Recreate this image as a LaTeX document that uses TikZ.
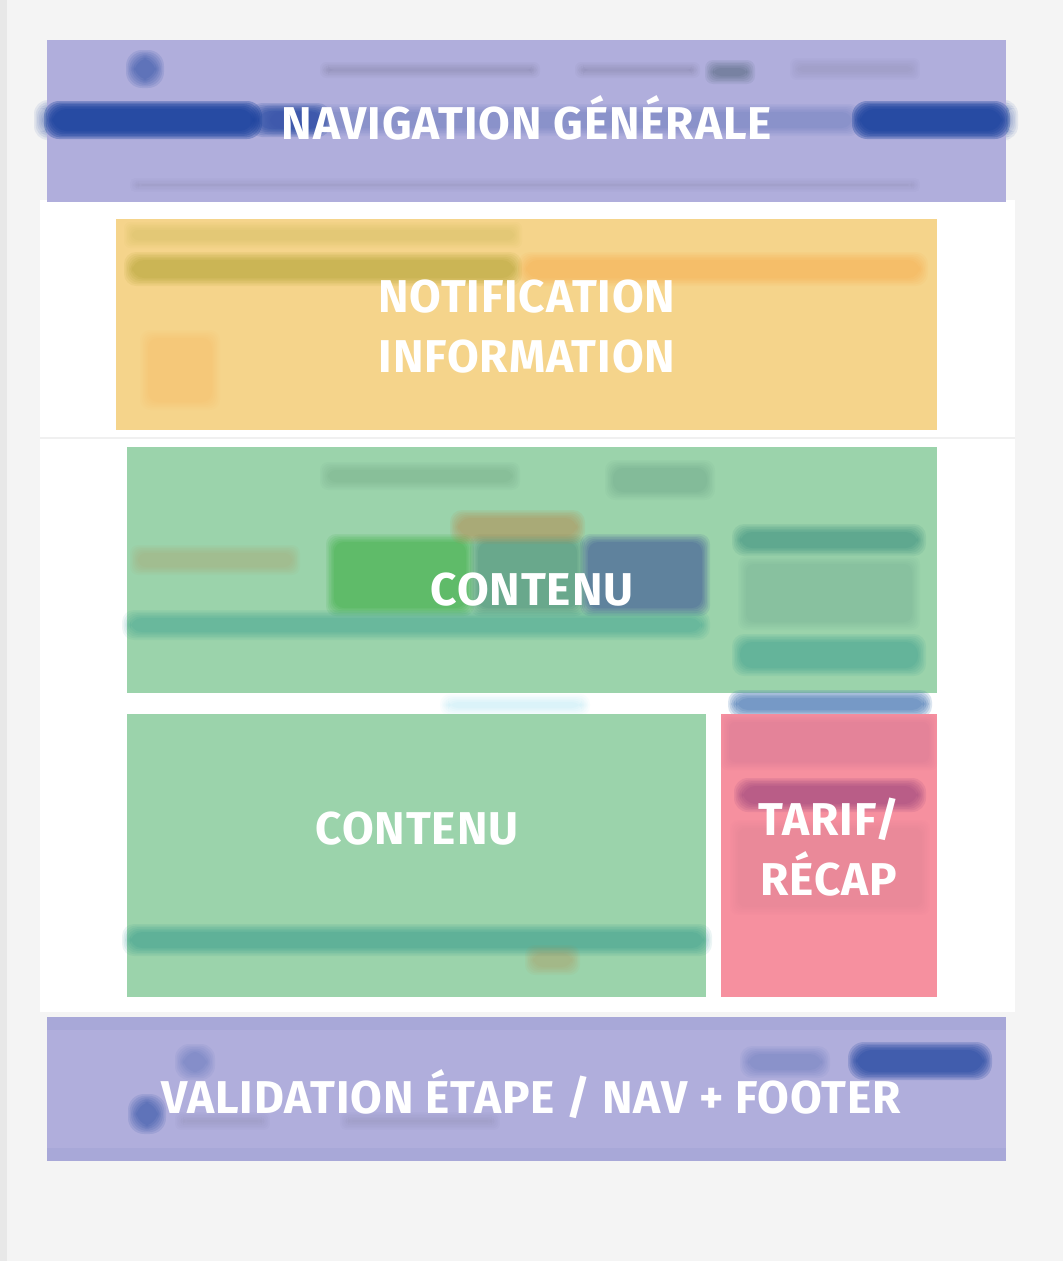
\documentclass[tikz,border=0pt]{standalone}
\usepackage{fontspec}
\setmainfont{Fira Sans}[LetterSpace=2]
\usetikzlibrary{calc}
% a blurred-looking bar: stacked translucent rounded boxes, each one inset a little more
% #1 colour, #2 strength, #3 first corner, #4 opposite corner, #5 corner radius
\newcommand{\hazybar}[5]{%
  \foreach \k in {0,...,5}{
    \fill[#1, opacity=#2/6, rounded corners=#5]
      ($#3+(\k*1.6,\k*1.6)$) rectangle ($#4-(\k*1.6,\k*1.6)$);
  }}
\begin{document}
\begin{tikzpicture}[x=1pt,y=-1pt,
  zone/.style={fill=#1, draw=none},
  label/.style={text=white, font=\bfseries\fontsize{46}{60}\selectfont, align=center, inner sep=0pt}
]
\definecolor{pagebg}{HTML}{F4F4F4}
\definecolor{navc}{HTML}{B0AEDC}
\definecolor{notifc}{HTML}{F5D48B}
\definecolor{contc}{HTML}{9BD3AB}
\definecolor{tarifc}{HTML}{F6909F}
\definecolor{navbar}{HTML}{1B429E}
\definecolor{stepbar}{HTML}{3F72B0}
\definecolor{mauve}{HTML}{8A3A78}
% canvas
\useasboundingbox (0,0) rectangle (1063,1261);
\fill[pagebg] (0,0) rectangle (1063,1261);
\fill[black!9] (0,0) rectangle (7,1261);
\fill[white] (40,200) rectangle (1015,1012);
\draw[black!6, line width=2pt] (40,438) -- (1015,438);

% header block
\hazybar{navbar}{0.5}{(34,100)}{(60,140)}{14pt}
\hazybar{navbar}{0.5}{(995,100)}{(1018,140)}{14pt}
\fill[zone=navc] (47,40) rectangle (1006,202);
\hazybar{navbar}{2.0}{(44,101)}{(262,139)}{15pt}
\hazybar{navbar}{1.0}{(250,103)}{(330,137)}{12pt}
\hazybar{navbar}{2.0}{(852,101)}{(1010,139)}{15pt}
\hazybar{navbar}{0.25}{(262,104)}{(860,136)}{10pt}
\hazybar{navbar}{0.7}{(126,50)}{(164,88)}{16pt}
\hazybar{black}{0.12}{(320,62)}{(540,78)}{6pt}
\hazybar{black}{0.12}{(575,62)}{(700,78)}{6pt}
\hazybar{black!70!teal}{0.35}{(705,60)}{(755,84)}{8pt}
\hazybar{black}{0.07}{(790,58)}{(920,80)}{6pt}
\hazybar{black}{0.08}{(130,178)}{(920,192)}{5pt}
\node[label, anchor=base] (nav) at (527,139) {NAVIGATION GÉNÉRALE};

% notification block
\fill[zone=notifc] (116,219) rectangle (937,430);
\hazybar{olive}{0.45}{(124,252)}{(522,286)}{12pt}
\hazybar{orange}{0.25}{(518,252)}{(928,286)}{12pt}
\hazybar{olive}{0.15}{(124,222)}{(522,248)}{6pt}
\hazybar{orange}{0.12}{(140,330)}{(220,410)}{10pt}
\node[label] (notif) at (527,327) {NOTIFICATION\\INFORMATION};

% first content block
\fill[zone=contc] (127,447) rectangle (937,693);
\hazybar{green!60!black}{0.45}{(326,534)}{(474,616)}{10pt}
\hazybar{teal!60!black}{0.35}{(470,534)}{(585,616)}{10pt}
\hazybar{blue!55!black}{0.45}{(580,534)}{(710,616)}{10pt}
\hazybar{brown}{0.6}{(450,510)}{(585,544)}{12pt}
\hazybar{teal}{0.35}{(122,610)}{(710,640)}{12pt}
\hazybar{teal!80!black}{0.45}{(732,524)}{(926,556)}{12pt}
\hazybar{teal}{0.4}{(732,634)}{(926,676)}{12pt}
\hazybar{teal!60!black}{0.12}{(738,556)}{(920,630)}{8pt}
\hazybar{brown}{0.25}{(130,545)}{(300,575)}{8pt}
\hazybar{black!60!teal}{0.12}{(320,462)}{(520,490)}{8pt}
\hazybar{black!60!teal}{0.15}{(605,460)}{(715,500)}{10pt}
\node[label, anchor=base] (cont1) at (532,605) {CONTENU};

% second content block and summary column
\hazybar{stepbar}{1.1}{(728,690)}{(932,718)}{12pt}
\hazybar{cyan}{0.15}{(440,694)}{(590,716)}{10pt}
\fill[zone=contc] (127,714) rectangle (706,997);
\hazybar{teal}{0.45}{(122,924)}{(712,956)}{12pt}
\hazybar{brown}{0.35}{(525,945)}{(580,975)}{10pt}
\node[label, anchor=base] (cont2) at (417,844) {CONTENU};
\fill[zone=tarifc] (721,714) rectangle (937,997);
\hazybar{mauve}{0.15}{(721,714)}{(937,770)}{6pt}
\hazybar{mauve}{0.75}{(734,778)}{(926,812)}{14pt}
\hazybar{mauve}{0.07}{(730,820)}{(930,915)}{8pt}
\node[label] (tarif) at (829,847) {TARIF/\\RÉCAP};

% footer block
\fill[zone=navc] (47,1017) rectangle (1006,1161);
\fill[navbar, opacity=0.05] (47,1017) rectangle (1006,1030);
\fill[navbar, opacity=0.05] (47,1148) rectangle (1006,1161);
\hazybar{navbar}{1.2}{(848,1042)}{(992,1080)}{16pt}
\hazybar{navbar}{0.25}{(740,1046)}{(830,1078)}{12pt}
\hazybar{navbar}{0.3}{(175,1044)}{(215,1080)}{14pt}
\hazybar{navbar}{0.7}{(128,1094)}{(166,1134)}{16pt}
\hazybar{black}{0.08}{(175,1112)}{(270,1130)}{6pt}
\hazybar{black}{0.08}{(340,1112)}{(500,1130)}{6pt}
\node[label, anchor=base] (foot) at (531,1113) {VALIDATION ÉTAPE / NAV + FOOTER};
\end{tikzpicture}
\end{document}
